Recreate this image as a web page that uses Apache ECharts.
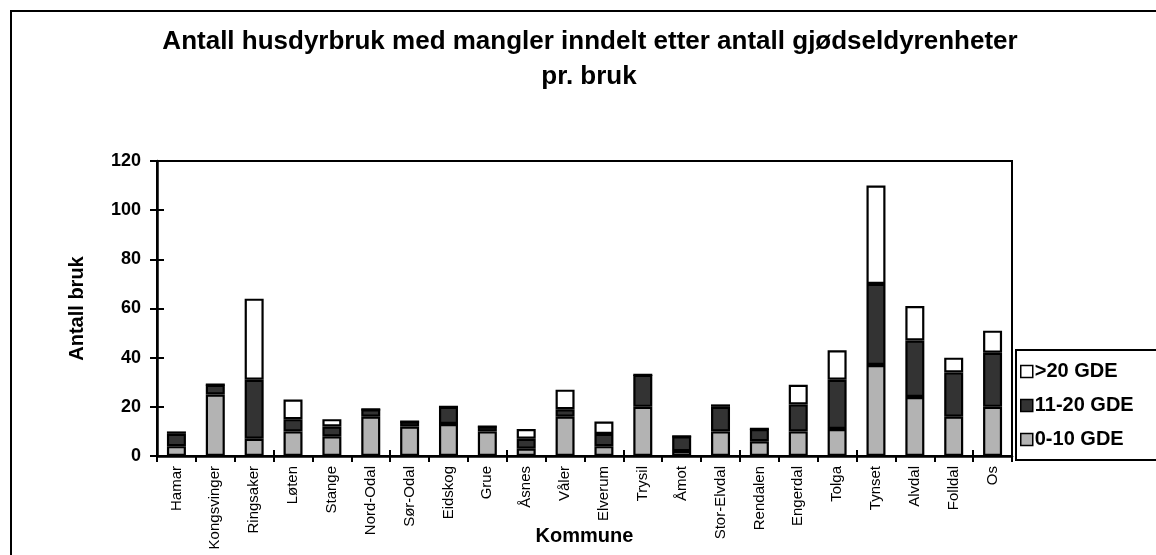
<!DOCTYPE html>
<html>
<head>
<meta charset="utf-8">
<script src="https://cdn.jsdelivr.net/npm/echarts@6/dist/echarts.min.js"></script>
<style>
html,body{margin:0;padding:0;background:#fff;}
#c{width:1156px;height:555px;}
</style>
</head>
<body>
<div id="c"></div>
<script>
const categories = ['Hamar','Kongsvinger','Ringsaker','Løten','Stange','Nord-Odal','Sør-Odal','Eidskog','Grue','Åsnes','Våler','Elverum','Trysil','Åmot','Stor-Elvdal','Rendalen','Engerdal','Tolga','Tynset','Alvdal','Folldal','Os'];
const gde0_10  = [4, 25, 7, 10, 8, 16, 12, 13, 10, 3, 16, 4, 20, 2, 10, 6, 10, 11, 37, 24, 16, 20];
const gde11_20 = [5, 4, 24, 5, 4, 3, 2, 7, 2, 4, 3, 5, 13, 6, 10, 5, 11, 20, 33, 23, 18, 22];
const gdeOver20 = [1, 0, 33, 8, 3, 0, 0, 0, 0, 4, 8, 5, 0, 0, 1, 0, 8, 12, 40, 14, 6, 9];
const seriesNames = ['0-10 GDE', '11-20 GDE', '>20 GDE'];
const titleLines = ['Antall husdyrbruk med mangler inndelt etter antall gjødseldyrenheter', 'pr. bruk'];

const FONT = '"Liberation Sans", Arial, sans-serif';
const chart = echarts.init(document.getElementById('c'), null, {renderer: 'canvas'});

const barStyle = (color) => ({color: color, borderColor: '#000', borderWidth: 2.2});

const option = {
  animation: false,
  backgroundColor: '#fff',
  textStyle: {fontFamily: FONT, color: '#000'},
  graphic: [
    {type: 'rect', shape: {x: 11, y: 11, width: 1300, height: 700}, style: {fill: 'none', stroke: '#000', lineWidth: 2}, z: 0},
    {type: 'text', x: 590, y: 42, style: {text: titleLines[0], font: 'bold 26px ' + FONT, fill: '#000', textAlign: 'center', textVerticalAlign: 'middle'}},
    {type: 'text', x: 589, y: 77, style: {text: titleLines[1], font: 'bold 26px ' + FONT, fill: '#000', textAlign: 'center', textVerticalAlign: 'middle'}}
  ],
  grid: {left: 157, right: 144, top: 161, bottom: 99, outerBoundsMode: 'none', containLabel: false, show: true, borderColor: '#000', borderWidth: 2, backgroundColor: 'transparent'},
  legend: {
    orient: 'vertical', left: 1016, top: 350,
    data: [seriesNames[2], seriesNames[1], seriesNames[0]],
    itemWidth: 12, itemHeight: 12, itemGap: 13, icon: 'rect',
    padding: [11, 40, 10, 4],
    borderColor: '#000', borderWidth: 2, backgroundColor: '#fff',
    textStyle: {fontFamily: FONT, fontWeight: 'bold', fontSize: 20, lineHeight: 21, color: '#000', padding: [0, 0, 0, -3]},
    itemStyle: {borderWidth: 1.5, borderColor: '#000'}
  },
  xAxis: [{
    type: 'category', data: categories, position: 'bottom',
    axisLine: {show: true, lineStyle: {color: '#000', width: 2.5}},
    axisTick: {show: true, length: 6, lineStyle: {color: '#000', width: 2}},
    axisLabel: {rotate: 90, interval: 0, fontSize: 15, margin: 10, color: '#000', fontFamily: FONT},
    name: 'Kommune', nameLocation: 'middle', nameGap: 70, nameMoveOverlap: false,
    nameTextStyle: {fontFamily: FONT, fontWeight: 'bold', fontSize: 20, color: '#000'}
  }, {
    type: 'category', data: categories, position: 'bottom',
    axisLine: {show: false}, axisLabel: {show: false},
    axisTick: {show: true, inside: true, length: 6, lineStyle: {color: '#000', width: 2}}
  }],
  yAxis: [{
    type: 'value', min: 0, max: 120, interval: 20,
    axisLine: {show: true, lineStyle: {color: '#000', width: 2.5}},
    axisTick: {show: true, length: 7, lineStyle: {color: '#000', width: 2}},
    splitLine: {show: false},
    axisLabel: {fontSize: 18, fontWeight: 'bold', margin: 16, color: '#000', fontFamily: FONT},
    name: 'Antall bruk', nameLocation: 'middle', nameGap: 70, nameMoveOverlap: false,
    nameTextStyle: {fontFamily: FONT, fontWeight: 'bold', fontSize: 20, color: '#000'}
  }, {
    type: 'value', min: 0, max: 120, interval: 20, position: 'left',
    axisLine: {show: false}, axisLabel: {show: false}, splitLine: {show: false},
    axisTick: {show: true, inside: true, length: 7, lineStyle: {color: '#000', width: 2}}
  }],
  series: [
    {name: seriesNames[0], type: 'bar', stack: 'a', data: gde0_10, barWidth: 19, itemStyle: barStyle('#b3b3b3')},
    {name: seriesNames[1], type: 'bar', stack: 'a', data: gde11_20, barWidth: 19, itemStyle: barStyle('#333333')},
    {name: seriesNames[2], type: 'bar', stack: 'a', data: gdeOver20, barWidth: 19, itemStyle: barStyle('#ffffff')}
  ]
};
chart.setOption(option);
</script>
</body>
</html>
